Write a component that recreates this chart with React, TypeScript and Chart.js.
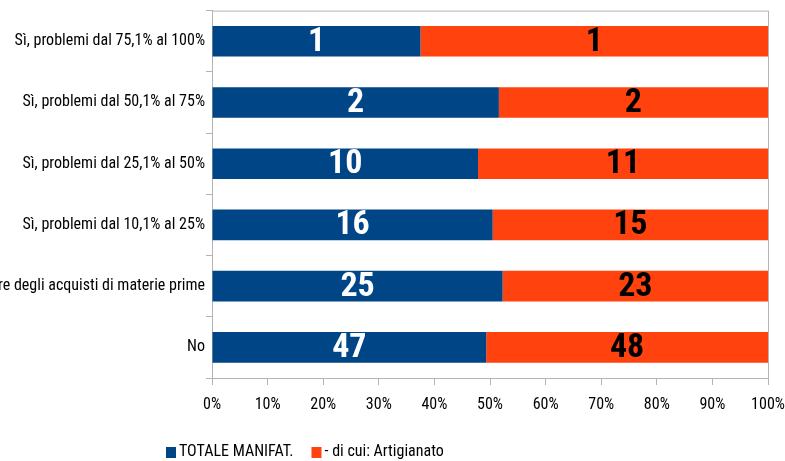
import React, { useEffect, useRef } from "react";
import { Chart, registerables } from "chart.js";

Chart.register(...registerables);

const categories = [
  "Sì, problemi dal 75,1% al 100%",
  "Sì, problemi dal 50,1% al 75%",
  "Sì, problemi dal 25,1% al 50%",
  "Sì, problemi dal 10,1% al 25%",
  "Sì, problemi fino al 10% del valore degli acquisti di materie prime",
  "No",
];
const seriesNames = ["TOTALE MANIFAT.", "- di cui: Artigianato"];
const totaleValues = [0.75, 2.1, 10.0, 15.6, 25.3, 47.0];
const artigianatoValues = [1.25, 1.97, 10.9, 15.3, 23.1, 48.3];
const xTicks = [0, 10, 20, 30, 40, 50, 60, 70, 80, 90, 100];

const BLUE = "#004586";
const ORANGE = "#ff420e";
const GRID = "#b3b3b3";
const FONT = "'Roboto Condensed', 'Liberation Sans Narrow', sans-serif";

const rawValues = [totaleValues, artigianatoValues];
const sums = categories.map((_, i) => totaleValues[i] + artigianatoValues[i]);
const shares = rawValues.map((arr) => arr.map((v, i) => (v / sums[i]) * 100));

const labelPlugin = {
  id: "valueLabels",
  afterDatasetsDraw(chart: any) {
    const ctx = chart.ctx;
    ctx.save();
    ctx.font = `bold 34px ${FONT}`;
    ctx.textAlign = "center";
    ctx.textBaseline = "middle";
    chart.data.datasets.forEach((ds: any, di: number) => {
      const meta = chart.getDatasetMeta(di);
      ctx.fillStyle = di === 0 ? "#ffffff" : "#000000";
      meta.data.forEach((bar: any, i: number) => {
        const p = bar.getProps(["x", "y", "base"], true);
        const cx = (p.x + p.base) / 2;
        ctx.fillText(String(Math.round(rawValues[di][i])), cx, p.y + 1);
      });
    });
    ctx.restore();
  },
};

const framePlugin = {
  id: "frame",
  beforeDatasetsDraw(chart: any) {
    const { ctx, chartArea: a } = chart;
    ctx.save();
    ctx.strokeStyle = GRID;
    ctx.lineWidth = 1;
    ctx.strokeRect(a.left + 0.5, a.top + 0.5, a.right - a.left, a.bottom - a.top);
    ctx.restore();
  },
};

const legendPlugin = {
  id: "customLegend",
  afterDraw(chart: any) {
    const ctx = chart.ctx;
    ctx.save();
    ctx.font = `16px ${FONT}`;
    ctx.textBaseline = "middle";
    ctx.textAlign = "left";
    let x = 166;
    const y = 452;
    const colors = [BLUE, ORANGE];
    seriesNames.forEach((name, i) => {
      ctx.fillStyle = colors[i];
      ctx.fillRect(x, y - 5, 10, 11);
      x += 13;
      ctx.fillStyle = "#000";
      ctx.fillText(name, x, y);
      x += ctx.measureText(name).width + 18;
    });
    ctx.restore();
  },
};

export default function App() {
  const ref = useRef<HTMLCanvasElement>(null);
  useEffect(() => {
    if (!ref.current) return;
    const chart = new Chart(ref.current, {
      type: "bar",
      data: {
        labels: categories,
        datasets: [
          { label: seriesNames[0], data: shares[0], backgroundColor: BLUE, borderWidth: 0 },
          { label: seriesNames[1], data: shares[1], backgroundColor: ORANGE, borderWidth: 0 },
        ],
      },
      options: {
        indexAxis: "y",
        animation: false,
        responsive: true,
        maintainAspectRatio: false,
        layout: { padding: { top: 8, right: 17, left: 0, bottom: 0 } },
        datasets: { bar: { barPercentage: 0.5, categoryPercentage: 1 } },
        plugins: { legend: { display: false }, tooltip: { enabled: false }, title: { display: false } },
        scales: {
          x: {
            stacked: true,
            min: 0,
            max: 100,
            afterFit(scale: any) {
              scale.height = 83;
              scale.paddingRight = 0;
              scale.paddingLeft = 0;
            },
            afterBuildTicks(scale: any) {
              scale.ticks = xTicks.map((v) => ({ value: v }));
            },
            grid: { drawOnChartArea: false, drawTicks: true, tickLength: 7, color: GRID },
            border: { display: true, color: GRID },
            ticks: {
              color: "#000",
              padding: 10,
              maxRotation: 0,
              font: { family: FONT, size: 16 },
              callback: (v: any) => `${v}%`,
            },
          },
          y: {
            stacked: true,
            afterFit(scale: any) {
              scale.width = 212;
            },
            grid: { drawOnChartArea: false, drawTicks: true, tickLength: 6, color: GRID, offset: true },
            border: { display: true, color: GRID },
            ticks: {
              color: "#000",
              padding: 1,
              autoSkip: false,
              font: { family: FONT, size: 16 },
            },
          },
        },
      },
      plugins: [framePlugin, labelPlugin, legendPlugin],
    } as any);
    return () => chart.destroy();
  }, []);
  return (
    <div style={{ position: "absolute", left: 0, top: 0, width: 785, height: 461 }}>
      <canvas ref={ref} />
    </div>
  );
}
